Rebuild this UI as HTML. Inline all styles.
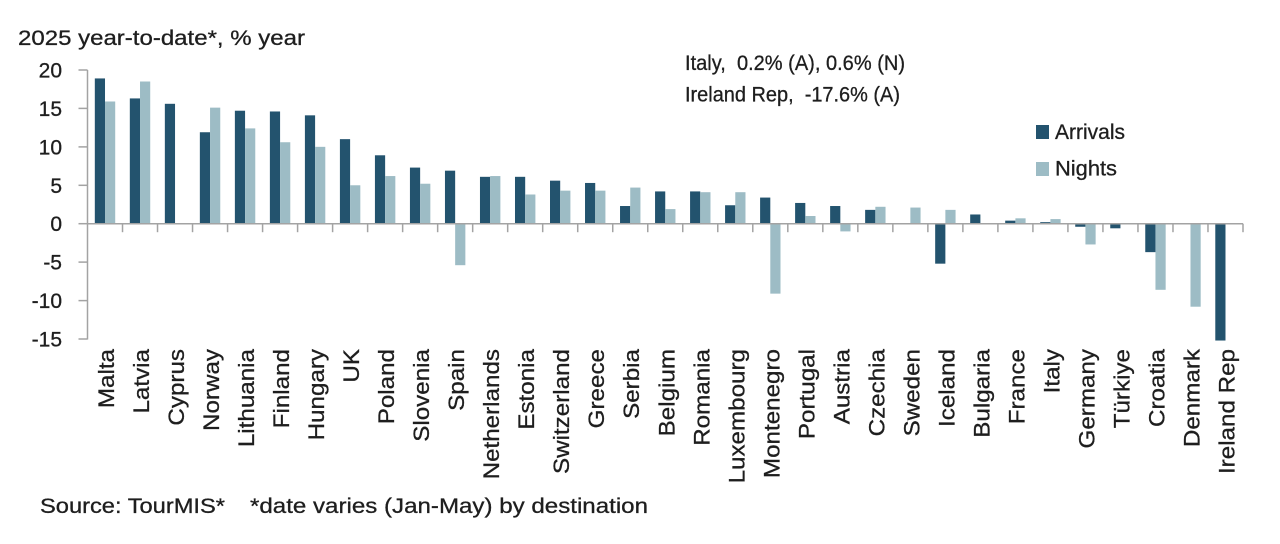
<!DOCTYPE html>
<html>
<head>
<meta charset="utf-8">
<style>
html,body{margin:0;padding:0;background:#fff;}
svg{display:block;}
text{font-family:"Liberation Sans",sans-serif;fill:#1e1e1e;stroke:#1e1e1e;stroke-width:0.3px;}
</style>
</head>
<body>
<svg width="1280" height="544" viewBox="0 0 1280 544" xmlns="http://www.w3.org/2000/svg">
<rect width="1280" height="544" fill="#fff"/>
<text x="18" y="45" font-size="21" textLength="287" lengthAdjust="spacingAndGlyphs">2025 year-to-date*, % year</text>
<g font-size="21" text-anchor="end">
<text x="62" y="77.5">20</text>
<text x="62" y="115.9">15</text>
<text x="62" y="154.3">10</text>
<text x="62" y="192.8">5</text>
<text x="62" y="231.2">0</text>
<text x="62" y="269.6">-5</text>
<text x="62" y="308.1">-10</text>
<text x="62" y="346.5">-15</text>
</g>
<g id="bars"></g>
<g stroke="#a3a3a3" stroke-width="1.5" fill="none" id="axes">
<line x1="87.5" y1="70" x2="87.5" y2="339.5"/>
<line x1="78.5" y1="70" x2="87.5" y2="70"/>
<line x1="78.5" y1="108.4" x2="87.5" y2="108.4"/>
<line x1="78.5" y1="146.9" x2="87.5" y2="146.9"/>
<line x1="78.5" y1="185.3" x2="87.5" y2="185.3"/>
<line x1="78.5" y1="223.7" x2="87.5" y2="223.7"/>
<line x1="78.5" y1="262.1" x2="87.5" y2="262.1"/>
<line x1="78.5" y1="300.6" x2="87.5" y2="300.6"/>
<line x1="78.5" y1="339" x2="87.5" y2="339"/>
<line x1="87.5" y1="223.7" x2="1243" y2="223.7"/>
</g>
<g id="labels" font-size="22" text-anchor="end"></g>
<text x="685" y="70" font-size="21" textLength="220" lengthAdjust="spacingAndGlyphs" xml:space="preserve">Italy,  0.2% (A), 0.6% (N)</text>
<text x="685" y="101.7" font-size="21" textLength="215" lengthAdjust="spacingAndGlyphs" xml:space="preserve">Ireland Rep,  -17.6% (A)</text>
<rect x="1036" y="125" width="13" height="14" fill="#23536e"/>
<text x="1055" y="139" font-size="21" textLength="70" lengthAdjust="spacingAndGlyphs">Arrivals</text>
<rect x="1036" y="162" width="13" height="14" fill="#9dbcc5"/>
<text x="1055" y="175.5" font-size="21" textLength="62" lengthAdjust="spacingAndGlyphs">Nights</text>
<text x="40" y="513" font-size="21" textLength="185" lengthAdjust="spacingAndGlyphs">Source: TourMIS*</text>
<text x="250" y="513" font-size="21" textLength="398" lengthAdjust="spacingAndGlyphs">*date varies (Jan-May) by destination</text>
</svg>
<script>
(function(){
var NS="http://www.w3.org/2000/svg";
var data=[
["Malta",18.9,15.9],["Latvia",16.3,18.5],["Cyprus",15.6,null],["Norway",11.9,15.1],
["Lithuania",14.7,12.4],["Finland",14.6,10.6],["Hungary",14.1,10.0],["UK",11.0,5.0],
["Poland",8.9,6.2],["Slovenia",7.3,5.2],["Spain",6.9,-5.4],["Netherlands",6.1,6.2],
["Estonia",6.1,3.8],["Switzerland",5.6,4.3],["Greece",5.3,4.3],["Serbia",2.3,4.7],
["Belgium",4.2,1.9],["Romania",4.2,4.1],["Luxembourg",2.4,4.1],["Montenegro",3.4,-9.1],
["Portugal",2.7,1.0],["Austria",2.3,-1.0],["Czechia",1.8,2.2],["Sweden",null,2.1],
["Iceland",-5.2,1.8],["Bulgaria",1.2,null],["France",0.4,0.7],["Italy",0.2,0.6],
["Germany",-0.4,-2.7],["Türkiye",-0.6,null],["Croatia",-3.7,-8.6],["Denmark",null,-10.8],
["Ireland Rep",-15.2,null]];
var x0=87.5,step=(1243-87.5)/33,zero=223.7,k=7.686,bw=10.2;
var bars=document.getElementById("bars"),axes=document.getElementById("axes"),labels=document.getElementById("labels");
function bar(x,v,col){
 if(v===null)return;
 var y=zero-v*k,h=Math.abs(v*k);
 var r=document.createElementNS(NS,"rect");
 r.setAttribute("x",x.toFixed(2));r.setAttribute("y",Math.min(y,zero).toFixed(2));
 r.setAttribute("width",bw);r.setAttribute("height",Math.max(h,1).toFixed(2));
 r.setAttribute("fill",col);bars.appendChild(r);
}
for(var i=0;i<data.length;i++){
 var c=x0+(i+0.5)*step;
 bar(c-bw,data[i][1],"#23536e");
 bar(c,data[i][2],"#9dbcc5");
 var t=document.createElementNS(NS,"text");
 t.setAttribute("transform","translate("+(c+9).toFixed(2)+",349) rotate(-90) scale(1.1,1)");
 t.textContent=data[i][0];labels.appendChild(t);
}
for(var j=1;j<=33;j++){
 var xx=x0+j*step;
 var l=document.createElementNS(NS,"line");
 l.setAttribute("x1",xx.toFixed(2));l.setAttribute("x2",xx.toFixed(2));
 l.setAttribute("y1",zero);l.setAttribute("y2",zero+8.5);
 axes.appendChild(l);
}
})();
</script>
</body>
</html>
